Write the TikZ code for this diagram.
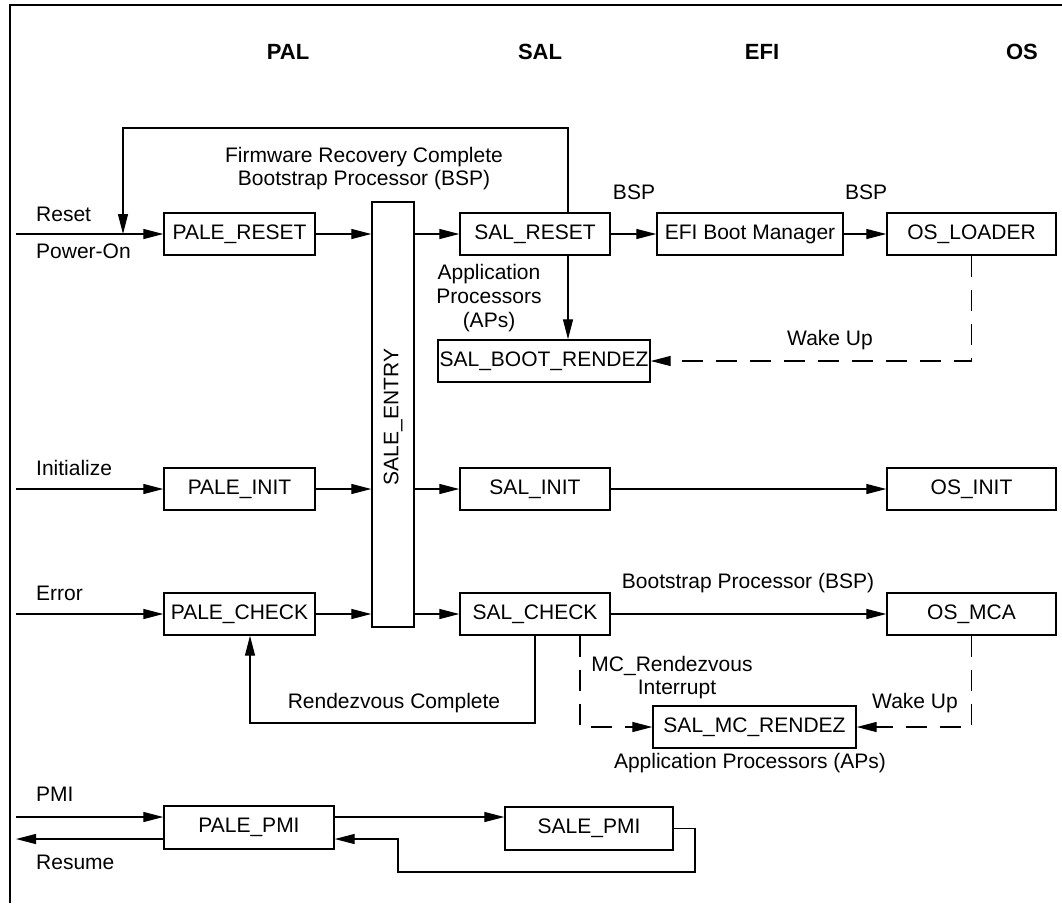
\documentclass[tikz,border=0pt]{standalone}
\usepackage{fontspec}
\setmainfont{Liberation Sans}
\usetikzlibrary{arrows.meta}
\begin{document}
\begin{tikzpicture}[x=1pt,y=-1pt,
  font=\fontsize{21}{24}\selectfont,
  box/.style={draw, line width=1.4pt, inner sep=0pt},
  lbl/.style={inner sep=0pt},
  hdr/.style={inner sep=0pt, font=\fontsize{22}{25}\selectfont\bfseries},
  arr/.style={line width=1.3pt, -{Triangle[length=20pt,width=10pt]}},
  dsh/.style={arr, dash pattern=on 21pt off 13pt}]
\useasboundingbox (0,0) rectangle (1062,903);
\draw[line width=1.3pt] (1062,5) -- (10,5) -- (10,903);

% headers
\node[hdr] (hpal) at (288,52) {PAL};
\node[hdr] (hsal) at (540,52) {SAL};
\node[hdr] (hefi) at (762,52) {EFI};
\node[hdr] (hos)  at (1022,52) {OS};

% boxes
\node[box, minimum width=151pt, minimum height=42pt] (pr) at (239.5,234) {PALE\_RESET};
\node[box, minimum width=42pt, minimum height=425pt] (se) at (393,414.5) {};
\node[lbl, rotate=90] (setxt) at (393,417) {SALE\_ENTRY};
\node[box, minimum width=150pt, minimum height=42pt] (sr) at (535,234) {SAL\_RESET};
\node[box, minimum width=186pt, minimum height=42pt] (efi) at (750,234) {EFI Boot Manager};
\node[box, minimum width=169pt, minimum height=42pt] (osl) at (971.5,234) {OS\_LOADER};
\node[box, minimum width=212pt, minimum height=42pt] (sbr) at (544,361) {SAL\_BOOT\_RENDEZ};

\node[box, minimum width=151pt, minimum height=42pt] (pi) at (239.5,489) {PALE\_INIT};
\node[box, minimum width=150pt, minimum height=42pt] (si) at (535,489) {SAL\_INIT};
\node[box, minimum width=169pt, minimum height=42pt] (oi) at (971.5,489) {OS\_INIT};

\node[box, minimum width=151pt, minimum height=42pt] (pc) at (239.5,614) {PALE\_CHECK};
\node[box, minimum width=150pt, minimum height=42pt] (sc) at (535,614) {SAL\_CHECK};
\node[box, minimum width=169pt, minimum height=42pt] (om) at (971.5,614) {OS\_MCA};
\node[box, minimum width=203pt, minimum height=42pt] (smr) at (754.5,727) {SAL\_MC\_RENDEZ};

\node[box, minimum width=170pt, minimum height=43pt] (pp) at (249,827.5) {PALE\_PMI};
\node[box, minimum width=168pt, minimum height=43pt] (sp) at (589,828.5) {SALE\_PMI};

% row 1
\coordinate (rin) at (16,234);
\draw[arr] (rin) -- (pr.west);
\draw[arr] (pr.east) -- (pr.east -| se.west);
\draw[arr] (se.east |- sr.west) -- (sr.west);
\draw[arr] (sr.east) -- (efi.west);
\draw[arr] (efi.east) -- (osl.west);
\coordinate (fbtop) at (123,128);
\coordinate (fbend) at (123,234);
\draw[arr] ([xshift=33pt]sr.north) |- (fbtop) -- (fbend);
\draw[arr] ([xshift=33pt]sr.south) -- ([xshift=33pt]sr.south |- sbr.north);
\draw[dsh] (osl.south) |- (sbr.east);

\node[lbl, anchor=west] (treset) at (36,214) {Reset};
\node[lbl, anchor=west] (tpower) at (36,251) {Power-On};
\node[lbl] (tfw1) at (364,157) {Firmware Recovery Complete};
\node[lbl] (tfw2) at (364,180) {Bootstrap Processor (BSP)};
\node[lbl] (tbsp1) at (634,192) {BSP};
\node[lbl] (tbsp2) at (866,192) {BSP};
\node[lbl, align=center] (tap) at (489,298) {Application\\Processors\\(APs)};
\node[lbl] (twake1) at (830,340) {Wake Up};

% row 3
\coordinate (iin) at (16,489);
\draw[arr] (iin) -- (pi.west);
\draw[arr] (pi.east) -- (pi.east -| se.west);
\draw[arr] (se.east |- si.west) -- (si.west);
\draw[arr] (si.east) -- (oi.west);
\node[lbl, anchor=west] (tinit) at (36,468) {Initialize};

% row 4
\coordinate (ein) at (16,614);
\draw[arr] (ein) -- (pc.west);
\draw[arr] (pc.east) -- (pc.east -| se.west);
\draw[arr] (se.east |- sc.west) -- (sc.west);
\draw[arr] (sc.east) -- (om.west);
\node[lbl, anchor=west] (terr) at (36,593) {Error};
\node[lbl] (tbsp3) at (748,583) {Bootstrap Processor (BSP)};

\coordinate (rc) at (250,723);
\draw[arr] (sc.south) |- (rc) -- (rc |- pc.south);
\node[lbl] (trc) at (394,703) {Rendezvous Complete};
\draw[dsh] ([xshift=45pt]sc.south) |- (smr.west);
\draw[dsh] (om.south) |- (smr.east);
\node[lbl] (tmc1) at (672,666) {MC\_Rendezvous};
\node[lbl] (tmc2) at (677,689) {Interrupt};
\node[lbl] (twake2) at (915,703) {Wake Up};
\node[lbl] (tap2) at (750,763) {Application Processors (APs)};

% PMI
\coordinate (pin) at (16,817);
\coordinate (rout) at (16,839);
\draw[arr] (pin) -- (pin -| pp.west);
\draw[arr] (rout -| pp.west) -- (rout);
\draw[arr] (pin -| pp.east) -- (pin -| sp.west);
\coordinate (rb1) at (695,872);
\coordinate (rb2) at (398,872);
\draw[arr] (sp.east) -| (rb1) -- (rb2) |- (rout -| pp.east);
\node[lbl, anchor=west] (tpmi) at (36,794) {PMI};
\node[lbl, anchor=west] (tres) at (36,862) {Resume};
\end{tikzpicture}
\end{document}
